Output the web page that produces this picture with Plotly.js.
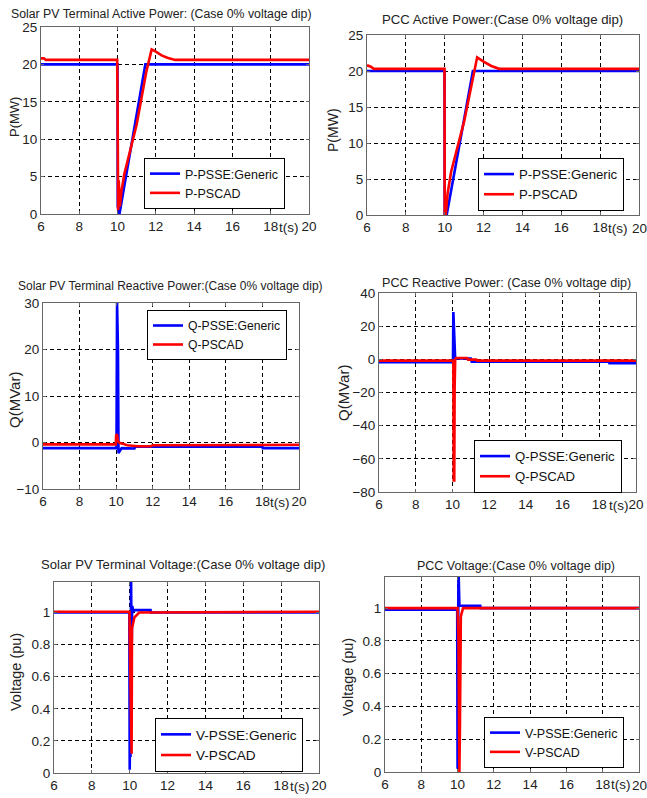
<!DOCTYPE html>
<html><head><meta charset="utf-8">
<script src="https://cdn.plot.ly/plotly-3.0.1.min.js"></script>
<style>html,body{margin:0;padding:0;background:#fff}#chart{width:647px;height:798px}</style>
</head><body><div id="chart"></div>
<script>
// ---------- data (time in s) ----------
// Plot 1: Solar PV terminal active power (MW)
const t1Psse = [6, 9.995, 10.0, 10.01, 10.1, 11.45, 20];
const p1Psse = [20, 20, 15, 1, 0, 20, 20];
const t1Pscad = [6, 6.15, 6.25, 9.98, 10.0, 10.03, 10.06, 10.12, 10.2, 10.35, 11.0, 11.5, 11.78, 12.0, 12.3, 12.6, 13.0, 20];
const p1Pscad = [20.8, 20.8, 20.6, 20.6, 15, 0.5, 4.5, 1, 3, 5.3, 12, 19, 22, 21.7, 21.2, 20.9, 20.6, 20.6];
// Plot 2: PCC active power (MW)
const t2Psse = [6, 9.99, 10.0, 10.1, 11.45, 20];
const p2Psse = [20, 20, 0, 0, 20, 20];
const t2Pscad = [6, 6.2, 6.35, 9.99, 10.0, 10.05, 10.15, 10.33, 11.0, 11.67, 12.0, 12.4, 12.8, 20];
const p2Pscad = [20.8, 20.6, 20.3, 20.3, 0, 0, 3, 6, 13, 21.9, 21.3, 20.7, 20.3, 20.3];
// Plot 3: Solar PV terminal reactive power (MVar)
const t3Psse = [6, 10.02, 10.05, 10.1, 10.13, 10.3, 11.0, 11.05, 18.0, 18.02, 20];
const q3Psse = [-1.2, -1.2, 30, 20, -2.3, -1.2, -1.3, -0.9, -0.9, -1.2, -1.2];
const t3Pscad = [6, 9.98, 10.0, 10.05, 10.1, 10.2, 10.4, 10.6, 11.2, 11.9, 12.0, 18, 20];
const q3Pscad = [-0.4, -0.4, 1.5, 1.8, 0.3, -0.1, -0.3, -0.6, -0.8, -0.8, -0.6, -0.6, -0.5];
// Plot 4: PCC reactive power (MVar)
const t4Psse = [6, 10.03, 10.05, 10.12, 10.15, 10.2, 11.0, 11.05, 18.5, 18.55, 20];
const q4Psse = [-1.8, -1.8, 28.5, 10, 0, 0.5, 0.5, -1.4, -1.4, -2.3, -2.3];
const t4Pscad = [6, 10.05, 10.07, 10.1, 10.12, 10.15, 10.2, 10.8, 10.85, 11.3, 11.35, 20];
const q4Pscad = [-0.8, -0.8, -73, -73, -17, 0, 0.8, 0.8, -0.2, -0.2, -0.8, -0.8];
// Plot 5: Solar PV terminal voltage (pu)
const t5Psse = [6, 9.98, 10.0, 10.02, 10.04, 10.07, 10.1, 10.13, 10.2, 10.3, 11.1, 11.12, 20];
const v5Psse = [1.0, 1.0, 0.02, 0.28, 0.1, 1.25, 0.73, 1.04, 1.01, 1.015, 1.015, 1.0, 1.0];
const t5Pscad = [6, 9.99, 10.0, 10.1, 10.12, 10.25, 10.5, 20];
const v5Pscad = [1.005, 1.005, 0.87, 0.12, 0.9, 0.97, 1.0, 1.005];
// Plot 6: PCC voltage (pu)
const t6Psse = [6, 9.98, 10.0, 10.05, 10.1, 11.25, 11.27, 20];
const v6Psse = [0.99, 0.99, 0.02, 1.25, 1.015, 1.015, 1.0, 1.0];
const t6Pscad = [6, 10.0, 10.05, 10.1, 10.13, 10.18, 10.3, 20];
const v6Pscad = [1.0, 1.0, 0.8, 0.0, 0.27, 0.95, 1.0, 1.0];

const xTickVals = [6, 8, 10, 12, 14, 16, 18, 20];
const titles = [
  "Solar PV Terminal Active Power: (Case 0% voltage dip)",
  "PCC Active Power:(Case 0% voltage dip)",
  "Solar PV Terminal Reactive Power:(Case 0% voltage dip)",
  "PCC Reactive Power: (Case 0% voltage dip)",
  "Solar PV Terminal Voltage:(Case 0% voltage dip)",
  "PCC Voltage:(Case 0% voltage dip)"
];
const yTitles = ["P(MW)", "P(MW)", "Q(MVar)", "Q(MVar)", "Voltage (pu)", "Voltage (pu)"];
const seriesNames = [
  ["P-PSSE:Generic", "P-PSCAD"], ["P-PSSE:Generic", "P-PSCAD"],
  ["Q-PSSE:Generic", "Q-PSCAD"], ["Q-PSSE:Generic", "Q-PSCAD"],
  ["V-PSSE:Generic", "V-PSCAD"], ["V-PSSE:Generic", "V-PSCAD"]
];

// ---------- layout geometry (pixels) ----------
const W = 647, H = 798;
const SANS = "Liberation Sans, Arial, sans-serif";
const boxes = [ // [left, right, top, bottom]
  [41, 309, 27, 214], [367, 639, 35, 215],
  [43, 299, 303, 489], [379, 636, 293, 492],
  [54, 319, 582, 773], [385, 639, 577, 772]
];
const edgeLabelAsText = [false, true, false, false, false, true]; // right-edge "20" drawn as text
const yRanges = [[0, 25], [0, 25], [-10, 30], [-80, 40], [0, 1.19], [0, 1.19]];
const yDticks = [5, 5, 10, 20, 0.2, 0.2];
const titlePos = [[161, 14], [503, 19], [170, 286], [506, 283], [183, 564], [516, 566]];
const titleSize = [12.3, 13.2, 12, 12.6, 13.1, 12.5];
const legendSize = [12.5, 13.2, 12.2, 13.2, 13.6, 12.5];
const yTitlePos = [[15, 117, 13], [333, 130, 14], [14, 400, 15], [344, 393, 15], [16, 672, 14.5], [348, 677, 14.5]];
const legendBox = [[144, 158], [478, 158], [147, 310], [474, 440], [155, 718], [484, 717]];
const tsX = [18.95, 18.9, 18.97, 19.1, 18.97, 19.0];

const data = [];
const series = [
  [t1Psse, p1Psse, t1Pscad, p1Pscad],
  [t2Psse, p2Psse, t2Pscad, p2Pscad],
  [t3Psse, q3Psse, t3Pscad, q3Pscad],
  [t4Psse, q4Psse, t4Pscad, q4Pscad],
  [t5Psse, v5Psse, t5Pscad, v5Pscad],
  [t6Psse, v6Psse, t6Pscad, v6Pscad]
];
const layout = {
  width: W, height: H, margin: {l: 0, r: 0, t: 0, b: 0},
  paper_bgcolor: "#fff", plot_bgcolor: "#fff", showlegend: true,
  annotations: []
};
const tickFont = {family: SANS, size: 13.5, color: "#222"};
series.forEach((s, i) => {
  const n = i + 1;
  const xa = n === 1 ? "x" : "x" + n, ya = n === 1 ? "y" : "y" + n;
  const lg = n === 1 ? "legend" : "legend" + n;
  data.push({x: s[0], y: s[1], type: "scatter", mode: "lines", name: seriesNames[i][0],
    line: {color: "#0000ff", width: 2.6}, xaxis: xa, yaxis: ya, legend: lg, legendgroup: "a" + n});
  data.push({x: s[2], y: s[3], type: "scatter", mode: "lines", name: seriesNames[i][1],
    line: {color: "#ff0000", width: 2.6}, xaxis: xa, yaxis: ya, legend: lg, legendgroup: "b" + n});
  const b = boxes[i];
  const axCommon = {showline: true, linecolor: "#666", linewidth: 1, mirror: "ticks",
    ticks: "inside", ticklen: 3, tickcolor: "#666", showgrid: true, gridcolor: "#000",
    griddash: "4px,3px", gridwidth: 1, zeroline: false, ticklabeloverflow: "allow",
    tickfont: tickFont};
  const tv = edgeLabelAsText[i] ? xTickVals.slice(0, -1) : xTickVals;
  layout[n === 1 ? "xaxis" : "xaxis" + n] = Object.assign({}, axCommon, {
    domain: [b[0] / W, b[1] / W], anchor: ya, range: [6, 20], tickvals: tv,
    ticktext: tv.map(String)});
  layout[n === 1 ? "yaxis" : "yaxis" + n] = Object.assign({}, axCommon, {
    domain: [1 - b[3] / H, 1 - b[2] / H], anchor: xa, range: yRanges[i], dtick: yDticks[i],
    tick0: 0});
  layout[lg] = {x: legendBox[i][0] / W, y: 1 - legendBox[i][1] / H, xanchor: "left", yanchor: "top",
    xref: "paper", yref: "paper", bgcolor: "#fff", bordercolor: "#000", borderwidth: 1,
    font: {family: SANS, size: legendSize[i], color: "#111"}, tracegroupgap: 2, traceorder: "normal"};
  layout.annotations.push({text: titles[i], xref: "paper", yref: "paper",
    x: titlePos[i][0] / W, y: 1 - titlePos[i][1] / H, xanchor: "center", yanchor: "middle",
    showarrow: false, font: {family: SANS, size: titleSize[i], color: "#222"}});
  layout.annotations.push({text: yTitles[i], xref: "paper", yref: "paper", textangle: -90,
    x: yTitlePos[i][0] / W, y: 1 - yTitlePos[i][1] / H, xanchor: "center", yanchor: "middle",
    showarrow: false, font: {family: SANS, size: yTitlePos[i][2], color: "#222"}});
  layout.annotations.push({text: "t(s)", xref: xa, yref: ya + " domain", x: tsX[i], y: 0,
    yshift: -13, xanchor: "center", yanchor: "middle", showarrow: false, font: tickFont});
  if (edgeLabelAsText[i]) {
    const last = xTickVals[xTickVals.length - 1];
    layout.annotations.push({text: String(last), xref: "paper", yref: "paper",
      x: b[1] / W, y: 1 - (b[3] + 13) / H, xanchor: "center", yanchor: "middle",
      showarrow: false, font: tickFont});
  }
});
Plotly.newPlot("chart", data, layout, {displayModeBar: false, staticPlot: true});
</script></body></html>
